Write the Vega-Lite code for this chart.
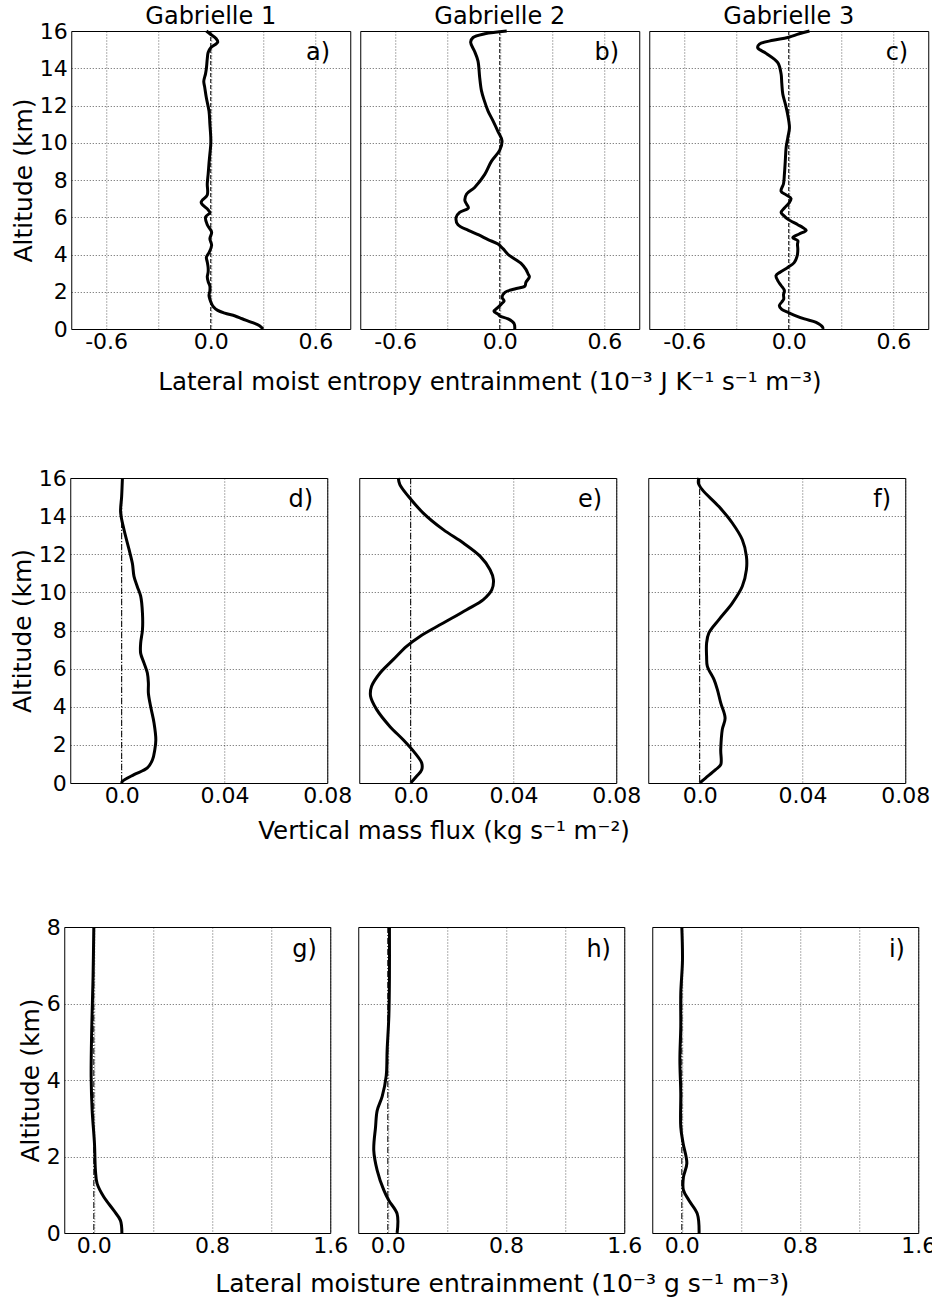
{
  "$schema": "https://vega.github.io/schema/vega-lite/v6.json",
  "padding": {"left": 10, "top": 5, "right": 0, "bottom": 0},
  "background": "white",
  "datasets": {
    "entropy": [
      {"panel": "Gabrielle 1", "letter": "a)"},
      {"panel": "Gabrielle 2", "letter": "b)"},
      {"panel": "Gabrielle 3", "letter": "c)"},
      {"panel": "Gabrielle 1", "alt": 0, "v": 0.30},
      {"panel": "Gabrielle 1", "alt": 0.18, "v": 0.28},
      {"panel": "Gabrielle 1", "alt": 0.36, "v": 0.235},
      {"panel": "Gabrielle 1", "alt": 0.55, "v": 0.18},
      {"panel": "Gabrielle 1", "alt": 0.7, "v": 0.14},
      {"panel": "Gabrielle 1", "alt": 0.85, "v": 0.08},
      {"panel": "Gabrielle 1", "alt": 1.0, "v": 0.04},
      {"panel": "Gabrielle 1", "alt": 1.2, "v": 0.015},
      {"panel": "Gabrielle 1", "alt": 1.35, "v": 0.005},
      {"panel": "Gabrielle 1", "alt": 1.6, "v": -0.005},
      {"panel": "Gabrielle 1", "alt": 1.8, "v": -0.01},
      {"panel": "Gabrielle 1", "alt": 2.05, "v": -0.005},
      {"panel": "Gabrielle 1", "alt": 2.3, "v": -0.005},
      {"panel": "Gabrielle 1", "alt": 2.55, "v": -0.015},
      {"panel": "Gabrielle 1", "alt": 2.8, "v": -0.02},
      {"panel": "Gabrielle 1", "alt": 3.05, "v": -0.015},
      {"panel": "Gabrielle 1", "alt": 3.3, "v": -0.015},
      {"panel": "Gabrielle 1", "alt": 3.6, "v": -0.02},
      {"panel": "Gabrielle 1", "alt": 3.85, "v": -0.025},
      {"panel": "Gabrielle 1", "alt": 4.1, "v": -0.01},
      {"panel": "Gabrielle 1", "alt": 4.5, "v": 0.005},
      {"panel": "Gabrielle 1", "alt": 4.85, "v": -0.005},
      {"panel": "Gabrielle 1", "alt": 5.2, "v": 0.005},
      {"panel": "Gabrielle 1", "alt": 5.6, "v": -0.02},
      {"panel": "Gabrielle 1", "alt": 6.0, "v": -0.03},
      {"panel": "Gabrielle 1", "alt": 6.25, "v": -0.005},
      {"panel": "Gabrielle 1", "alt": 6.4, "v": -0.015},
      {"panel": "Gabrielle 1", "alt": 6.8, "v": -0.055},
      {"panel": "Gabrielle 1", "alt": 7.2, "v": -0.02},
      {"panel": "Gabrielle 1", "alt": 7.8, "v": -0.02},
      {"panel": "Gabrielle 1", "alt": 8.3, "v": -0.015},
      {"panel": "Gabrielle 1", "alt": 8.9, "v": -0.01},
      {"panel": "Gabrielle 1", "alt": 9.4, "v": -0.005},
      {"panel": "Gabrielle 1", "alt": 9.9, "v": 0.0},
      {"panel": "Gabrielle 1", "alt": 10.3, "v": 0.0},
      {"panel": "Gabrielle 1", "alt": 11.0, "v": -0.005},
      {"panel": "Gabrielle 1", "alt": 11.7, "v": -0.01},
      {"panel": "Gabrielle 1", "alt": 12.4, "v": -0.025},
      {"panel": "Gabrielle 1", "alt": 13.0, "v": -0.035},
      {"panel": "Gabrielle 1", "alt": 13.3, "v": -0.04},
      {"panel": "Gabrielle 1", "alt": 13.7, "v": -0.03},
      {"panel": "Gabrielle 1", "alt": 14.0, "v": -0.025},
      {"panel": "Gabrielle 1", "alt": 14.5, "v": -0.02},
      {"panel": "Gabrielle 1", "alt": 14.85, "v": -0.015},
      {"panel": "Gabrielle 1", "alt": 15.1, "v": 0.0},
      {"panel": "Gabrielle 1", "alt": 15.4, "v": 0.04},
      {"panel": "Gabrielle 1", "alt": 15.6, "v": 0.03},
      {"panel": "Gabrielle 1", "alt": 15.85, "v": -0.005},
      {"panel": "Gabrielle 1", "alt": 16.0, "v": -0.025},
      {"panel": "Gabrielle 2", "alt": 0, "v": 0.086},
      {"panel": "Gabrielle 2", "alt": 0.3, "v": 0.082},
      {"panel": "Gabrielle 2", "alt": 0.54, "v": 0.048},
      {"panel": "Gabrielle 2", "alt": 0.7, "v": 0.0},
      {"panel": "Gabrielle 2", "alt": 0.8, "v": -0.01},
      {"panel": "Gabrielle 2", "alt": 0.95, "v": -0.033},
      {"panel": "Gabrielle 2", "alt": 1.16, "v": -0.01},
      {"panel": "Gabrielle 2", "alt": 1.35, "v": 0.01},
      {"panel": "Gabrielle 2", "alt": 1.5, "v": 0.025},
      {"panel": "Gabrielle 2", "alt": 1.7, "v": 0.013},
      {"panel": "Gabrielle 2", "alt": 1.97, "v": 0.03},
      {"panel": "Gabrielle 2", "alt": 2.15, "v": 0.086},
      {"panel": "Gabrielle 2", "alt": 2.3, "v": 0.144},
      {"panel": "Gabrielle 2", "alt": 2.5, "v": 0.15},
      {"panel": "Gabrielle 2", "alt": 2.8, "v": 0.17},
      {"panel": "Gabrielle 2", "alt": 2.95, "v": 0.163},
      {"panel": "Gabrielle 2", "alt": 3.2, "v": 0.15},
      {"panel": "Gabrielle 2", "alt": 3.5, "v": 0.125},
      {"panel": "Gabrielle 2", "alt": 4.0, "v": 0.048},
      {"panel": "Gabrielle 2", "alt": 4.3, "v": 0.02},
      {"panel": "Gabrielle 2", "alt": 4.56, "v": -0.01},
      {"panel": "Gabrielle 2", "alt": 4.8, "v": -0.067},
      {"panel": "Gabrielle 2", "alt": 5.05, "v": -0.12},
      {"panel": "Gabrielle 2", "alt": 5.3, "v": -0.18},
      {"panel": "Gabrielle 2", "alt": 5.6, "v": -0.24},
      {"panel": "Gabrielle 2", "alt": 6.0, "v": -0.25},
      {"panel": "Gabrielle 2", "alt": 6.26, "v": -0.23},
      {"panel": "Gabrielle 2", "alt": 6.5, "v": -0.18},
      {"panel": "Gabrielle 2", "alt": 6.7, "v": -0.19},
      {"panel": "Gabrielle 2", "alt": 6.9, "v": -0.2},
      {"panel": "Gabrielle 2", "alt": 7.25, "v": -0.19},
      {"panel": "Gabrielle 2", "alt": 7.6, "v": -0.144},
      {"panel": "Gabrielle 2", "alt": 8.3, "v": -0.086},
      {"panel": "Gabrielle 2", "alt": 9.0, "v": -0.048},
      {"panel": "Gabrielle 2", "alt": 9.6, "v": 0.0},
      {"panel": "Gabrielle 2", "alt": 10.1, "v": 0.013},
      {"panel": "Gabrielle 2", "alt": 10.6, "v": -0.01},
      {"panel": "Gabrielle 2", "alt": 11.2, "v": -0.04},
      {"panel": "Gabrielle 2", "alt": 11.7, "v": -0.067},
      {"panel": "Gabrielle 2", "alt": 12.3, "v": -0.09},
      {"panel": "Gabrielle 2", "alt": 12.8, "v": -0.105},
      {"panel": "Gabrielle 2", "alt": 13.5, "v": -0.115},
      {"panel": "Gabrielle 2", "alt": 14.4, "v": -0.125},
      {"panel": "Gabrielle 2", "alt": 14.9, "v": -0.144},
      {"panel": "Gabrielle 2", "alt": 15.4, "v": -0.167},
      {"panel": "Gabrielle 2", "alt": 15.65, "v": -0.153},
      {"panel": "Gabrielle 2", "alt": 15.85, "v": -0.086},
      {"panel": "Gabrielle 2", "alt": 16.0, "v": 0.04},
      {"panel": "Gabrielle 3", "alt": 0, "v": 0.195},
      {"panel": "Gabrielle 3", "alt": 0.09, "v": 0.195},
      {"panel": "Gabrielle 3", "alt": 0.36, "v": 0.157},
      {"panel": "Gabrielle 3", "alt": 0.54, "v": 0.09},
      {"panel": "Gabrielle 3", "alt": 0.75, "v": 0.03},
      {"panel": "Gabrielle 3", "alt": 0.9, "v": -0.006},
      {"panel": "Gabrielle 3", "alt": 1.05, "v": -0.04},
      {"panel": "Gabrielle 3", "alt": 1.25, "v": -0.054},
      {"panel": "Gabrielle 3", "alt": 1.45, "v": -0.04},
      {"panel": "Gabrielle 3", "alt": 1.6, "v": -0.029},
      {"panel": "Gabrielle 3", "alt": 1.85, "v": -0.03},
      {"panel": "Gabrielle 3", "alt": 2.06, "v": -0.025},
      {"panel": "Gabrielle 3", "alt": 2.35, "v": -0.045},
      {"panel": "Gabrielle 3", "alt": 2.6, "v": -0.063},
      {"panel": "Gabrielle 3", "alt": 2.86, "v": -0.073},
      {"panel": "Gabrielle 3", "alt": 3.05, "v": -0.05},
      {"panel": "Gabrielle 3", "alt": 3.3, "v": -0.006},
      {"panel": "Gabrielle 3", "alt": 3.55, "v": 0.03},
      {"panel": "Gabrielle 3", "alt": 3.75, "v": 0.042},
      {"panel": "Gabrielle 3", "alt": 4.0, "v": 0.05},
      {"panel": "Gabrielle 3", "alt": 4.3, "v": 0.052},
      {"panel": "Gabrielle 3", "alt": 4.55, "v": 0.05},
      {"panel": "Gabrielle 3", "alt": 4.74, "v": 0.052},
      {"panel": "Gabrielle 3", "alt": 4.9, "v": 0.023},
      {"panel": "Gabrielle 3", "alt": 5.1, "v": 0.06},
      {"panel": "Gabrielle 3", "alt": 5.3, "v": 0.1},
      {"panel": "Gabrielle 3", "alt": 5.45, "v": 0.08},
      {"panel": "Gabrielle 3", "alt": 5.6, "v": 0.052},
      {"panel": "Gabrielle 3", "alt": 5.9, "v": -0.006},
      {"panel": "Gabrielle 3", "alt": 6.1, "v": -0.03},
      {"panel": "Gabrielle 3", "alt": 6.26, "v": -0.044},
      {"panel": "Gabrielle 3", "alt": 6.5, "v": -0.025},
      {"panel": "Gabrielle 3", "alt": 6.75, "v": 0.0},
      {"panel": "Gabrielle 3", "alt": 7.0, "v": 0.013},
      {"panel": "Gabrielle 3", "alt": 7.2, "v": -0.015},
      {"panel": "Gabrielle 3", "alt": 7.4, "v": -0.044},
      {"panel": "Gabrielle 3", "alt": 7.8, "v": -0.03},
      {"panel": "Gabrielle 3", "alt": 8.3, "v": -0.025},
      {"panel": "Gabrielle 3", "alt": 9.0, "v": -0.02},
      {"panel": "Gabrielle 3", "alt": 9.75, "v": -0.015},
      {"panel": "Gabrielle 3", "alt": 10.3, "v": -0.005},
      {"panel": "Gabrielle 3", "alt": 10.8, "v": 0.004},
      {"panel": "Gabrielle 3", "alt": 11.5, "v": -0.006},
      {"panel": "Gabrielle 3", "alt": 12.1, "v": -0.02},
      {"panel": "Gabrielle 3", "alt": 12.6, "v": -0.034},
      {"panel": "Gabrielle 3", "alt": 13.2, "v": -0.04},
      {"panel": "Gabrielle 3", "alt": 13.7, "v": -0.044},
      {"panel": "Gabrielle 3", "alt": 14.3, "v": -0.063},
      {"panel": "Gabrielle 3", "alt": 14.8, "v": -0.13},
      {"panel": "Gabrielle 3", "alt": 15.1, "v": -0.178},
      {"panel": "Gabrielle 3", "alt": 15.3, "v": -0.168},
      {"panel": "Gabrielle 3", "alt": 15.5, "v": -0.09},
      {"panel": "Gabrielle 3", "alt": 15.65, "v": -0.006},
      {"panel": "Gabrielle 3", "alt": 15.85, "v": 0.06},
      {"panel": "Gabrielle 3", "alt": 16.0, "v": 0.119}
    ],
    "flux": [
      {"panel": "Gabrielle 1", "letter": "d)"},
      {"panel": "Gabrielle 2", "letter": "e)"},
      {"panel": "Gabrielle 3", "letter": "f)"},
      {"panel": "Gabrielle 1", "alt": 0, "v": 0.0},
      {"panel": "Gabrielle 1", "alt": 0.09, "v": 0.0003},
      {"panel": "Gabrielle 1", "alt": 0.44, "v": 0.0048},
      {"panel": "Gabrielle 1", "alt": 0.79, "v": 0.01},
      {"panel": "Gabrielle 1", "alt": 1.22, "v": 0.012},
      {"panel": "Gabrielle 1", "alt": 1.75, "v": 0.0129},
      {"panel": "Gabrielle 1", "alt": 2.27, "v": 0.0133},
      {"panel": "Gabrielle 1", "alt": 3.15, "v": 0.0126},
      {"panel": "Gabrielle 1", "alt": 4.0, "v": 0.0113},
      {"panel": "Gabrielle 1", "alt": 4.72, "v": 0.0104},
      {"panel": "Gabrielle 1", "alt": 5.25, "v": 0.0104},
      {"panel": "Gabrielle 1", "alt": 5.77, "v": 0.01},
      {"panel": "Gabrielle 1", "alt": 6.3, "v": 0.0087},
      {"panel": "Gabrielle 1", "alt": 6.8, "v": 0.0074},
      {"panel": "Gabrielle 1", "alt": 7.34, "v": 0.0074},
      {"panel": "Gabrielle 1", "alt": 8.04, "v": 0.0081},
      {"panel": "Gabrielle 1", "alt": 8.9, "v": 0.0081},
      {"panel": "Gabrielle 1", "alt": 9.8, "v": 0.0074},
      {"panel": "Gabrielle 1", "alt": 10.3, "v": 0.0061},
      {"panel": "Gabrielle 1", "alt": 10.84, "v": 0.0048},
      {"panel": "Gabrielle 1", "alt": 11.5, "v": 0.0042},
      {"panel": "Gabrielle 1", "alt": 12.24, "v": 0.0029},
      {"panel": "Gabrielle 1", "alt": 13.3, "v": 0.0009},
      {"panel": "Gabrielle 1", "alt": 14.2, "v": -0.0004},
      {"panel": "Gabrielle 1", "alt": 15.04, "v": 0.0},
      {"panel": "Gabrielle 1", "alt": 16.0, "v": 0.0003},
      {"panel": "Gabrielle 2", "alt": 0, "v": 0.0},
      {"panel": "Gabrielle 2", "alt": 0.35, "v": 0.0023},
      {"panel": "Gabrielle 2", "alt": 0.7, "v": 0.0043},
      {"panel": "Gabrielle 2", "alt": 1.05, "v": 0.0043},
      {"panel": "Gabrielle 2", "alt": 1.57, "v": 0.0017},
      {"panel": "Gabrielle 2", "alt": 2.27, "v": -0.0029},
      {"panel": "Gabrielle 2", "alt": 2.97, "v": -0.0081},
      {"panel": "Gabrielle 2", "alt": 3.85, "v": -0.0132},
      {"panel": "Gabrielle 2", "alt": 4.55, "v": -0.0156},
      {"panel": "Gabrielle 2", "alt": 5.07, "v": -0.0152},
      {"panel": "Gabrielle 2", "alt": 5.77, "v": -0.0119},
      {"panel": "Gabrielle 2", "alt": 6.47, "v": -0.0068},
      {"panel": "Gabrielle 2", "alt": 7.17, "v": -0.0016},
      {"panel": "Gabrielle 2", "alt": 7.69, "v": 0.0036},
      {"panel": "Gabrielle 2", "alt": 8.39, "v": 0.0127},
      {"panel": "Gabrielle 2", "alt": 9.09, "v": 0.0218},
      {"panel": "Gabrielle 2", "alt": 9.62, "v": 0.0283},
      {"panel": "Gabrielle 2", "alt": 10.14, "v": 0.0316},
      {"panel": "Gabrielle 2", "alt": 10.67, "v": 0.0322},
      {"panel": "Gabrielle 2", "alt": 11.19, "v": 0.0309},
      {"panel": "Gabrielle 2", "alt": 11.9, "v": 0.027},
      {"panel": "Gabrielle 2", "alt": 12.59, "v": 0.0205},
      {"panel": "Gabrielle 2", "alt": 13.29, "v": 0.0127},
      {"panel": "Gabrielle 2", "alt": 14.16, "v": 0.0049},
      {"panel": "Gabrielle 2", "alt": 15.04, "v": -0.0009},
      {"panel": "Gabrielle 2", "alt": 15.65, "v": -0.0042},
      {"panel": "Gabrielle 2", "alt": 16.0, "v": -0.0048},
      {"panel": "Gabrielle 3", "alt": 0, "v": 0.0},
      {"panel": "Gabrielle 3", "alt": 0.26, "v": 0.0023},
      {"panel": "Gabrielle 3", "alt": 0.7, "v": 0.0062},
      {"panel": "Gabrielle 3", "alt": 0.96, "v": 0.0082},
      {"panel": "Gabrielle 3", "alt": 1.75, "v": 0.0082},
      {"panel": "Gabrielle 3", "alt": 2.8, "v": 0.0088},
      {"panel": "Gabrielle 3", "alt": 3.41, "v": 0.0099},
      {"panel": "Gabrielle 3", "alt": 4.2, "v": 0.0082},
      {"panel": "Gabrielle 3", "alt": 4.9, "v": 0.0069},
      {"panel": "Gabrielle 3", "alt": 5.42, "v": 0.0056},
      {"panel": "Gabrielle 3", "alt": 6.12, "v": 0.003},
      {"panel": "Gabrielle 3", "alt": 6.64, "v": 0.0027},
      {"panel": "Gabrielle 3", "alt": 7.34, "v": 0.0027},
      {"panel": "Gabrielle 3", "alt": 7.87, "v": 0.0036},
      {"panel": "Gabrielle 3", "alt": 8.57, "v": 0.0075},
      {"panel": "Gabrielle 3", "alt": 9.44, "v": 0.0127},
      {"panel": "Gabrielle 3", "alt": 10.32, "v": 0.0166},
      {"panel": "Gabrielle 3", "alt": 11.19, "v": 0.0182},
      {"panel": "Gabrielle 3", "alt": 11.89, "v": 0.0182},
      {"panel": "Gabrielle 3", "alt": 12.76, "v": 0.0166},
      {"panel": "Gabrielle 3", "alt": 13.64, "v": 0.0127},
      {"panel": "Gabrielle 3", "alt": 14.5, "v": 0.0075},
      {"panel": "Gabrielle 3", "alt": 15.39, "v": 0.001},
      {"panel": "Gabrielle 3", "alt": 15.74, "v": -0.0005},
      {"panel": "Gabrielle 3", "alt": 16.0, "v": -0.0003}
    ],
    "moist": [
      {"panel": "Gabrielle 1", "letter": "g)"},
      {"panel": "Gabrielle 2", "letter": "h)"},
      {"panel": "Gabrielle 3", "letter": "i)"},
      {"panel": "Gabrielle 1", "alt": 0, "v": 0.19},
      {"panel": "Gabrielle 1", "alt": 0.33, "v": 0.18},
      {"panel": "Gabrielle 1", "alt": 0.59, "v": 0.135},
      {"panel": "Gabrielle 1", "alt": 0.94, "v": 0.068},
      {"panel": "Gabrielle 1", "alt": 1.29, "v": 0.0225},
      {"panel": "Gabrielle 1", "alt": 1.64, "v": 0.011},
      {"panel": "Gabrielle 1", "alt": 2.34, "v": 0.0045},
      {"panel": "Gabrielle 1", "alt": 3.2, "v": -0.011},
      {"panel": "Gabrielle 1", "alt": 4.07, "v": -0.018},
      {"panel": "Gabrielle 1", "alt": 4.95, "v": -0.016},
      {"panel": "Gabrielle 1", "alt": 5.8, "v": -0.011},
      {"panel": "Gabrielle 1", "alt": 6.7, "v": -0.005},
      {"panel": "Gabrielle 1", "alt": 8.0, "v": 0.0},
      {"panel": "Gabrielle 2", "alt": 0, "v": 0.063},
      {"panel": "Gabrielle 2", "alt": 0.5, "v": 0.063},
      {"panel": "Gabrielle 2", "alt": 0.85, "v": 0.007},
      {"panel": "Gabrielle 2", "alt": 1.12, "v": -0.027},
      {"panel": "Gabrielle 2", "alt": 1.64, "v": -0.072},
      {"panel": "Gabrielle 2", "alt": 2.16, "v": -0.095},
      {"panel": "Gabrielle 2", "alt": 2.77, "v": -0.083},
      {"panel": "Gabrielle 2", "alt": 3.2, "v": -0.072},
      {"panel": "Gabrielle 2", "alt": 3.57, "v": -0.038},
      {"panel": "Gabrielle 2", "alt": 4.1, "v": -0.011},
      {"panel": "Gabrielle 2", "alt": 4.79, "v": -0.0045},
      {"panel": "Gabrielle 2", "alt": 5.66, "v": 0.007},
      {"panel": "Gabrielle 2", "alt": 6.7, "v": 0.011},
      {"panel": "Gabrielle 2", "alt": 8.0, "v": 0.011},
      {"panel": "Gabrielle 3", "alt": 0, "v": 0.117},
      {"panel": "Gabrielle 3", "alt": 0.5, "v": 0.105},
      {"panel": "Gabrielle 3", "alt": 0.85, "v": 0.049},
      {"panel": "Gabrielle 3", "alt": 1.12, "v": 0.011},
      {"panel": "Gabrielle 3", "alt": 1.46, "v": 0.011},
      {"panel": "Gabrielle 3", "alt": 1.82, "v": 0.034},
      {"panel": "Gabrielle 3", "alt": 2.34, "v": 0.009},
      {"panel": "Gabrielle 3", "alt": 2.77, "v": -0.007},
      {"panel": "Gabrielle 3", "alt": 3.66, "v": -0.007},
      {"panel": "Gabrielle 3", "alt": 4.53, "v": -0.013},
      {"panel": "Gabrielle 3", "alt": 5.4, "v": -0.007},
      {"panel": "Gabrielle 3", "alt": 6.26, "v": -0.007},
      {"panel": "Gabrielle 3", "alt": 7.13, "v": 0.0045},
      {"panel": "Gabrielle 3", "alt": 8.0, "v": 0.0}
    ]
  },
  "center": true,
  "vconcat": [
    {
      "data": {"name": "entropy"},
      "title": {"text": "Lateral moist entropy entrainment (10⁻³ J K⁻¹ s⁻¹ m⁻³)", "orient": "bottom", "frame": "bounds", "anchor": "start", "offset": 19, "dx": 147},
      "spacing": 10,
      "bounds": "flush",
      "facet": {"column": {"field": "panel", "type": "nominal", "title": null,
        "header": {"labelFontSize": 24, "labelFont": "DejaVu Sans", "labelColor": "#000", "labelPadding": 2}}},
      "spec": {
        "width": 279, "height": 298,
        "layer": [
          {"transform": [{"filter": "isValid(datum.letter)"}],
           "mark": {"type": "rule", "strokeDash": [4, 2], "strokeWidth": 1, "color": "#000"},
           "encoding": {"x": {"datum": 0, "type": "quantitative"}}},
          {"transform": [{"filter": "isValid(datum.v)"}],
           "mark": {"type": "line", "color": "#000", "strokeWidth": 3, "interpolate": "catmull-rom"},
           "encoding": {
             "x": {"field": "v", "type": "quantitative", "scale": {"domain": [-0.8, 0.8], "nice": false, "zero": false},
               "axis": {"values": [-0.6, -0.3, 0, 0.3, 0.6], "tickCount": 20, "title": null, "labelPadding": 2,
                 "labelExpr": "datum.value == -0.6 ? '-0.6' : datum.value == 0 ? '0.0' : datum.value == 0.6 ? '0.6' : ''"}},
             "y": {"field": "alt", "type": "quantitative", "scale": {"domain": [0, 16], "nice": false},
               "axis": {"values": [0, 2, 4, 6, 8, 10, 12, 14, 16], "tickCount": 20, "format": "d", "title": "Altitude (km)"}},
             "order": {"field": "alt", "type": "quantitative"}}},
          {"transform": [{"filter": "isValid(datum.letter)"}],
           "mark": {"type": "text", "align": "right", "baseline": "middle", "fontSize": 24, "font": "DejaVu Sans", "color": "#000"},
           "encoding": {"x": {"datum": 0.685, "type": "quantitative"}, "y": {"datum": 14.8, "type": "quantitative"}, "text": {"field": "letter"}}}
        ]
      }
    },
    {
      "data": {"name": "flux"},
      "title": {"text": "Vertical mass flux (kg s⁻¹ m⁻²)", "orient": "bottom", "frame": "bounds", "anchor": "start", "offset": 14, "dx": 248},
      "spacing": 32,
      "bounds": "flush",
      "facet": {"column": {"field": "panel", "type": "nominal", "title": null, "header": {"labels": false}}},
      "spec": {
        "width": 257, "height": 305,
        "layer": [
          {"transform": [{"filter": "isValid(datum.letter)"}],
           "mark": {"type": "rule", "strokeDash": [6, 2, 1, 2], "strokeWidth": 1, "color": "#000"},
           "encoding": {"x": {"datum": 0, "type": "quantitative"}}},
          {"transform": [{"filter": "isValid(datum.v)"}],
           "mark": {"type": "line", "color": "#000", "strokeWidth": 3, "interpolate": "catmull-rom"},
           "encoding": {
             "x": {"field": "v", "type": "quantitative", "scale": {"domain": [-0.02, 0.08], "nice": false, "zero": false},
               "axis": {"values": [0, 0.04, 0.08], "tickCount": 20, "title": null, "labelPadding": 2,
                 "labelExpr": "datum.value == 0 ? '0.0' : datum.value == 0.04 ? '0.04' : '0.08'"}},
             "y": {"field": "alt", "type": "quantitative", "scale": {"domain": [0, 16], "nice": false},
               "axis": {"values": [0, 2, 4, 6, 8, 10, 12, 14, 16], "tickCount": 20, "format": "d", "title": "Altitude (km)"}},
             "order": {"field": "alt", "type": "quantitative"}}},
          {"transform": [{"filter": "isValid(datum.letter)"}],
           "mark": {"type": "text", "align": "right", "baseline": "middle", "fontSize": 24, "font": "DejaVu Sans", "color": "#000"},
           "encoding": {"x": {"datum": 0.0745, "type": "quantitative"}, "y": {"datum": 14.87, "type": "quantitative"}, "text": {"field": "letter"}}}
        ]
      }
    },
    {
      "data": {"name": "moist"},
      "title": {"text": "Lateral moisture entrainment (10⁻³ g s⁻¹ m⁻³)", "orient": "bottom", "frame": "bounds", "anchor": "start", "offset": 16, "dx": 197, "fontSize": 25},
      "spacing": 28,
      "bounds": "flush",
      "facet": {"column": {"field": "panel", "type": "nominal", "title": null, "header": {"labels": false}}},
      "spec": {
        "width": 266, "height": 306,
        "layer": [
          {"transform": [{"filter": "isValid(datum.letter)"}],
           "mark": {"type": "rule", "strokeDash": [6, 2, 1, 2], "strokeWidth": 1, "color": "#000"},
           "encoding": {"x": {"datum": 0, "type": "quantitative"}}},
          {"transform": [{"filter": "isValid(datum.v)"}],
           "mark": {"type": "line", "color": "#000", "strokeWidth": 3, "interpolate": "catmull-rom"},
           "encoding": {
             "x": {"field": "v", "type": "quantitative", "scale": {"domain": [-0.2, 1.6], "nice": false, "zero": false},
               "axis": {"values": [0, 0.4, 0.8, 1.2, 1.6], "tickCount": 20, "title": null, "labelPadding": 2,
                 "labelExpr": "datum.value == 0 ? '0.0' : datum.value == 0.8 ? '0.8' : datum.value == 1.6 ? '1.6' : ''"}},
             "y": {"field": "alt", "type": "quantitative", "scale": {"domain": [0, 8], "nice": false},
               "axis": {"values": [0, 2, 4, 6, 8], "tickCount": 20, "format": "d", "title": "Altitude (km)"}},
             "order": {"field": "alt", "type": "quantitative"}}},
          {"transform": [{"filter": "isValid(datum.letter)"}],
           "mark": {"type": "text", "align": "right", "baseline": "middle", "fontSize": 24, "font": "DejaVu Sans", "color": "#000"},
           "encoding": {"x": {"datum": 1.51, "type": "quantitative"}, "y": {"datum": 7.4, "type": "quantitative"}, "text": {"field": "letter"}}}
        ]
      }
    }
  ],
  "spacing": 72,
  "config": {
    "font": "DejaVu Sans",
    "view": {"stroke": "#000", "strokeWidth": 1},
    "title": {"fontSize": 24.5, "fontWeight": "normal", "font": "DejaVu Sans", "color": "#000"},
    "axis": {
      "labelFont": "DejaVu Sans", "labelFontSize": 22, "labelColor": "#000",
      "titleFont": "DejaVu Sans", "titleFontSize": 25, "titleFontWeight": "normal", "titleColor": "#000", "titlePadding": 3,
      "grid": true, "gridColor": "#000", "gridDash": [1, 2], "gridWidth": 0.8, "gridOpacity": 0.8,
      "domain": false, "ticks": false, "tickSize": 0, "labelPadding": 4, "labelOverlap": false, "labelFlush": false
    }
  }
}
